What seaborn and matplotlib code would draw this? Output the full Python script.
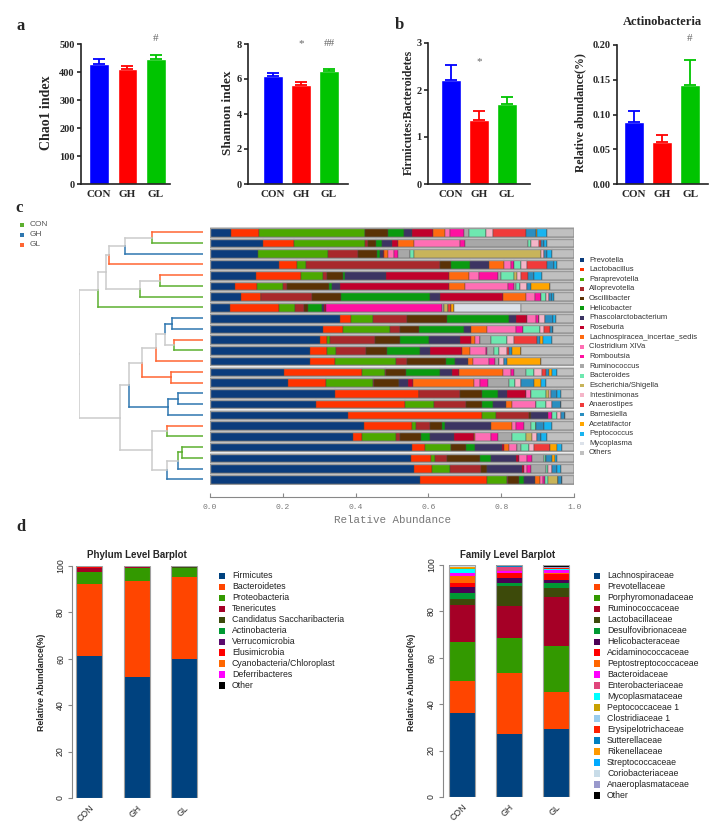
import numpy as np
import matplotlib
matplotlib.use('Agg')
import matplotlib.pyplot as plt
from matplotlib.patches import Rectangle
import seaborn as sns

# ---------------- data ----------------
groups = ['CON', 'GH', 'GL']
group_colors = ['#0000FF', '#FF0000', '#00C400']

chao1_mean = [430, 410, 448]
chao1_err = [15, 11, 14]
shannon_mean = [6.17, 5.64, 6.44]
shannon_err = [0.17, 0.19, 0.15]
fb_mean = [2.21, 1.37, 1.70]
fb_err = [0.32, 0.18, 0.16]
actino_mean = [0.089, 0.061, 0.142]
actino_err = [0.016, 0.010, 0.037]

genus_names = ['Prevotella', 'Lactobacillus', 'Paraprevotella', 'Alloprevotella', 'Oscillibacter',
               'Helicobacter', 'Phascolarctobacterium', 'Roseburia', 'Lachnospiracea_incertae_sedis',
               'Clostridium XlVa', 'Romboutsia', 'Ruminococcus', 'Bacteroides', 'Escherichia/Shigella',
               'Intestinimonas', 'Anaerostipes', 'Barnesiella', 'Acetatifactor', 'Peptococcus',
               'Mycoplasma', 'Others']
genus_colors = ['#0B3C7C', '#FF3300', '#4CA800', '#A8292B', '#5A3205', '#0A9A10', '#3C3462',
                '#C0002B', '#FF6A10', '#FF6EB4', '#FF10A0', '#A8A8A8', '#6EE8B0', '#C8B45A',
                '#F5B5C8', '#F03A3A', '#2A8EC0', '#FFA500', '#18B4F0', '#DCE2EA', '#C0C0C0']

# sample order follows the dendrogram leaves (top to bottom)
sample_groups = ['GL', 'CON', 'GH', 'GL', 'GL', 'CON', 'CON', 'CON', 'GH', 'GH', 'GL', 'CON',
                 'GL', 'GL', 'GL', 'GH', 'GH', 'GH', 'GL', 'CON', 'CON', 'CON', 'GH', 'GH']
tree_colors = {'CON': '#5DB030', 'GH': '#2F77B0', 'GL': '#FF6633'}

# genus reads per sample (same order as genus_names)
genus_reads = [
    [63, 85, 317, 0, 67, 48, 25, 62, 36, 15, 42, 15, 52, 0, 21, 97, 30, 5, 28, 0, 82],
    [158, 94, 213, 8, 25, 17, 30, 17, 48, 138, 17, 187, 8, 0, 25, 5, 10, 0, 10, 0, 80],
    [145, 0, 207, 91, 57, 8, 10, 4, 10, 20, 10, 36, 12, 380, 10, 0, 8, 0, 17, 0, 65],
    [206, 54, 28, 402, 32, 56, 57, 0, 45, 20, 10, 0, 22, 0, 18, 60, 20, 0, 8, 0, 52],
    [138, 135, 65, 12, 48, 7, 122, 190, 58, 30, 58, 7, 40, 8, 14, 20, 18, 0, 25, 0, 95],
    [75, 65, 80, 12, 123, 10, 23, 327, 48, 129, 18, 5, 12, 0, 23, 0, 10, 58, 0, 0, 72],
    [93, 59, 0, 153, 87, 268, 28, 190, 69, 26, 17, 0, 15, 0, 10, 0, 10, 0, 5, 0, 60],
    [60, 148, 47, 27, 10, 43, 5, 8, 0, 0, 347, 7, 0, 10, 0, 10, 0, 8, 0, 202, 158],
    [388, 35, 64, 103, 120, 185, 20, 35, 0, 25, 10, 0, 0, 0, 17, 0, 26, 0, 7, 0, 55],
    [338, 60, 140, 30, 59, 135, 21, 0, 47, 85, 23, 0, 49, 0, 13, 18, 10, 0, 0, 0, 62],
    [328, 22, 10, 135, 73, 87, 93, 34, 13, 15, 0, 32, 46, 0, 22, 68, 10, 10, 27, 0, 65],
    [298, 52, 28, 90, 62, 100, 30, 95, 25, 45, 3, 22, 15, 0, 23, 7, 10, 25, 0, 0, 160],
    [298, 77, 183, 32, 118, 27, 38, 0, 15, 47, 17, 13, 0, 0, 15, 0, 8, 102, 0, 0, 100],
    [223, 232, 68, 3, 62, 102, 35, 20, 133, 22, 10, 35, 25, 0, 25, 10, 10, 10, 13, 0, 52],
    [233, 115, 140, 4, 73, 0, 27, 16, 182, 18, 25, 62, 17, 0, 20, 0, 38, 20, 15, 0, 85],
    [375, 250, 0, 123, 67, 48, 25, 57, 0, 15, 0, 0, 45, 10, 5, 0, 20, 0, 10, 0, 40],
    [318, 265, 87, 97, 48, 33, 37, 0, 18, 72, 0, 0, 30, 0, 20, 0, 25, 0, 0, 0, 40],
    [413, 402, 40, 100, 5, 0, 53, 0, 0, 0, 12, 0, 13, 0, 12, 0, 13, 0, 0, 0, 27],
    [460, 145, 13, 40, 37, 10, 135, 0, 65, 10, 25, 20, 15, 0, 0, 0, 25, 0, 25, 0, 65],
    [428, 27, 103, 10, 65, 25, 74, 58, 5, 45, 22, 43, 40, 20, 13, 0, 12, 0, 20, 0, 80],
    [605, 40, 77, 0, 46, 27, 80, 5, 15, 25, 0, 10, 25, 0, 15, 48, 0, 22, 15, 0, 35],
    [602, 60, 13, 35, 98, 34, 73, 10, 0, 23, 17, 35, 5, 0, 0, 0, 20, 8, 7, 0, 50],
    [612, 53, 53, 94, 16, 0, 107, 5, 0, 10, 12, 45, 5, 0, 13, 0, 15, 0, 10, 0, 40],
    [628, 202, 60, 3, 33, 14, 33, 0, 15, 10, 5, 0, 10, 30, 0, 0, 10, 0, 0, 0, 37],
]

# hierarchical clustering: (child a, child b, height); leaves 0-23, new nodes numbered from 24
tree_merges = [
    (0, 1, 0.41), (24, 2, 0.63), (25, 3, 0.76), (4, 5, 0.35), (27, 6, 0.51),
    (26, 28, 0.78), (29, 7, 0.85), (8, 9, 0.25), (10, 11, 0.23), (31, 32, 0.31),
    (33, 12, 0.38), (13, 14, 0.26), (34, 35, 0.49), (15, 16, 0.20), (37, 17, 0.28),
    (36, 38, 0.60), (18, 19, 0.29), (20, 21, 0.17), (41, 22, 0.20), (42, 23, 0.29),
    (40, 43, 0.41), (39, 44, 0.67), (30, 45, 1.00),
]

phylum_names = ['Firmicutes', 'Bacteroidetes', 'Proteobacteria', 'Tenericutes',
                'Candidatus Saccharibacteria', 'Actinobacteria', 'Verrucomicrobia',
                'Elusimicrobia', 'Cyanobacteria/Chloroplast', 'Deferribacteres', 'Other']
phylum_colors = ['#00427F', '#FF4500', '#339900', '#A50026', '#3B4A0B', '#009933',
                 '#5B0A6E', '#FF0000', '#FF6600', '#FF00FF', '#000000']
phylum_con = [61.2, 30.9, 5.3, 1.7, 0.1, 0.1, 0.05, 0.05, 0.05, 0.05, 0.5]
phylum_gh = [52.3, 41.1, 5.9, 0.2, 0.1, 0.1, 0.05, 0.05, 0.05, 0.05, 0.1]
phylum_gl = [59.9, 35.4, 3.9, 0.1, 0.3, 0.1, 0.05, 0.05, 0.05, 0.05, 0.1]

family_names = ['Lachnospiraceae', 'Prevotellaceae', 'Porphyromonadaceae', 'Ruminococcaceae',
                'Lactobacillaceae', 'Desulfovibrionaceae', 'Helicobacteraceae',
                'Acidaminococcaceae', 'Peptostreptococcaceae', 'Bacteroidaceae',
                'Enterobacteriaceae', 'Mycoplasmataceae', 'Peptococcaceae 1', 'Clostridiaceae 1',
                'Erysipelotrichaceae', 'Sutterellaceae', 'Rikenellaceae', 'Streptococcaceae',
                'Coriobacteriaceae', 'Anaeroplasmataceae', 'Other']
family_colors = ['#00427F', '#FF4500', '#339900', '#A50026', '#3D4A0A', '#009933', '#4B0055',
                 '#FF0000', '#FF6600', '#FF00FF', '#E0457B', '#00FFFF', '#C8A000', '#99CCEE',
                 '#FF2000', '#0080C0', '#FF9900', '#00AAFF', '#C8DCE8', '#9999CC', '#000000']
family_con = [36.2, 14.0, 16.8, 15.8, 2.6, 2.7, 2.6, 1.4, 3.3, 1.0, 0.3, 1.7, 0.1, 0.1, 0.2,
              0.1, 0.1, 0.1, 0.3, 0.1, 0.6]
family_gh = [27.3, 26.1, 15.2, 13.9, 8.6, 1.2, 2.1, 2.0, 0.3, 0.6, 1.8, 0.05, 0.05, 0.05, 0.1,
             0.05, 0.05, 0.05, 0.05, 0.05, 0.4]
family_gl = [29.4, 15.8, 19.8, 21.1, 3.9, 2.1, 1.6, 2.4, 0.4, 1.2, 0.3, 0.2, 0.1, 0.1, 0.1,
             0.1, 0.1, 0.1, 0.1, 0.1, 1.0]

# ---------------- layout helpers ----------------
W, H = 724, 840
sns.set_style('ticks')
plt.rcParams['font.family'] = ['Liberation Serif', 'DejaVu Serif']
fig = plt.figure(figsize=(W / 100, H / 100), dpi=100)


def box(l, t, r, b):
    return [l / W, 1 - b / H, (r - l) / W, (b - t) / H]


over = fig.add_axes([0, 0, 1, 1])
over.set_xlim(0, W)
over.set_ylim(H, 0)
over.axis('off')

SANS = ['Liberation Sans', 'DejaVu Sans']
MONO = ['Liberation Mono', 'DejaVu Sans Mono']


def prism_panel(px, means, errs, ylim, yticks, yfmt, xlim, ylabel, lab_xy, lab_size, marks, mark_y):
    ax = fig.add_axes(box(*px))
    sns.barplot(x=groups, y=means, hue=groups, palette=group_colors, width=0.7,
                saturation=1, legend=False, errorbar=None, ax=ax)
    for i, (m, e, c) in enumerate(zip(means, errs, group_colors)):
        ax.errorbar(i, m, yerr=[[0], [e]], fmt='none', ecolor=c, elinewidth=1.3,
                    capsize=4, capthick=1.3)
        if marks[i]:
            ax.text(i, mark_y, marks[i], ha='center', va='center', fontsize=8,
                    color='#666666', clip_on=False)
    ax.set_xlim(xlim)
    ax.set_ylim(ylim)
    ax.set_yticks(yticks)
    ax.set_yticklabels([yfmt.format(v) for v in yticks])
    ax.set_xlabel('')
    ax.set_ylabel('')
    sns.despine(ax=ax)
    for s in ['left', 'bottom']:
        ax.spines[s].set_linewidth(1.2)
        ax.spines[s].set_color('#222222')
    ax.tick_params(axis='y', length=3, width=1.2, labelsize=7.5, pad=1.5)
    ax.tick_params(axis='x', length=0, labelsize=8, pad=4)
    for lab in ax.get_xticklabels() + ax.get_yticklabels():
        lab.set_fontweight('bold')
    over.text(lab_xy[0], lab_xy[1], ylabel, rotation=90, ha='center', va='center',
              fontsize=lab_size, fontweight='bold')
    return ax


# ---------------- panel a / b ----------------
prism_panel((81, 44, 170, 184), chao1_mean, chao1_err, (0, 500), [0, 100, 200, 300, 400, 500],
            '{:.0f}', (-0.63, 2.49), 'Chao1 index', (46, 113), 10, ['', '', '#'], 518)
prism_panel((248, 44, 348, 184), shannon_mean, shannon_err, (0, 8), [0, 2, 4, 6, 8],
            '{:.0f}', (-0.89, 2.68), 'Shannon index', (228, 113), 9.5, ['', '*', '##'], 8.05)
prism_panel((428, 43, 530, 184), fb_mean, fb_err, (0, 3), [0, 1, 2, 3],
            '{:.0f}', (-0.82, 2.82), 'Firmicutes:Bacteroidetes', (409, 112), 8.5,
            ['', '*', ''], 2.6)
prism_panel((617, 45, 708, 184), actino_mean, actino_err, (0, 0.2), [0, 0.05, 0.10, 0.15, 0.20],
            '{:.2f}', (-0.61, 2.64), 'Relative abundance(%)', (580, 113), 8.5,
            ['', '', '#'], 0.21)
over.text(662, 22, 'Actinobacteria', ha='center', va='center', fontsize=9, fontweight='bold')

for lab, x, y in [('a', 21, 26), ('b', 399, 25), ('c', 19, 208), ('d', 21, 527)]:
    over.text(x, y, lab, ha='center', va='center', fontsize=12, fontweight='bold')

# ---------------- panel c ----------------
n = len(sample_groups)
rows_top, rows_bot = 226.9, 484.7

axd = fig.add_axes(box(79, rows_top, 203, rows_bot))
axd.set_xlim(1.0, 0.0)
axd.set_ylim(n - 0.5, -0.5)
axd.axis('off')
ypos = {i: float(i) for i in range(n)}
hgt = {i: 0.0 for i in range(n)}
col = {i: tree_colors[g] for i, g in enumerate(sample_groups)}
for k, (a, b, h) in enumerate(tree_merges):
    node = n + k
    ypos[node] = (ypos[a] + ypos[b]) / 2
    hgt[node] = h
    col[node] = col[a] if col[a] == col[b] else '#CCCCCC'
    for child in (a, b):
        axd.plot([hgt[child], h], [ypos[child], ypos[child]], color=col[child], lw=1.1,
                 solid_capstyle='projecting')
        axd.plot([h, h], [ypos[child], ypos[node]], color=col[child], lw=1.1,
                 solid_capstyle='projecting')

axc = fig.add_axes(box(210, rows_top, 574, rows_bot))
reads = np.array(genus_reads, dtype=float)
rel = reads / reads.sum(axis=1, keepdims=True)
left = np.zeros(n)
for j, c in enumerate(genus_colors):
    axc.barh(np.arange(n), rel[:, j], left=left, height=0.8, color=c,
             edgecolor='#444444', linewidth=0.3)
    left += rel[:, j]
axc.barh(np.arange(n), left, height=0.8, fill=False, edgecolor='#9A9A9A', linewidth=1.0)
axc.set_xlim(0, 1)
axc.set_ylim(n - 0.5, -0.5)
for s in ['left', 'right', 'top']:
    axc.spines[s].set_visible(False)
axc.spines['bottom'].set_position(('outward', 9))
axc.spines['bottom'].set_color('#888888')
axc.spines['bottom'].set_linewidth(0.8)
axc.set_yticks([])
axc.set_xticks([0, 0.2, 0.4, 0.6, 0.8, 1.0])
axc.set_xticklabels(['0.0', '0.2', '0.4', '0.6', '0.8', '1.0'])
axc.tick_params(axis='x', direction='in', length=3, width=0.8, color='#888888',
                labelsize=5.8, labelcolor='#777777', pad=5)
for lab in axc.get_xticklabels():
    lab.set_family(MONO)
axc.set_xlabel('Relative Abundance', fontsize=7.8, color='#777777', family=MONO, labelpad=3)

for i, g in enumerate(groups):
    y = 225 + i * 10
    over.add_patch(Rectangle((20, y - 2), 4, 4, color=tree_colors[g], lw=0))
    over.text(30, y, g, fontsize=6, va='center', ha='left', color='#555555', family=SANS)

for i, (nm, c) in enumerate(zip(genus_names, genus_colors)):
    y = 260 + i * 9.65
    over.add_patch(Rectangle((580, y - 1.8), 3.6, 3.6, color=c, lw=0))
    over.text(589, y, nm, fontsize=5.5, va='center', ha='left', color='#333333', family=SANS)


# ---------------- panel d ----------------
def stacked_panel(px, xlim, series, names, colors, title, title_x, ylab_x, leg_x):
    ax = fig.add_axes(box(*px))
    x = np.arange(len(groups))
    bottom = np.zeros(len(groups))
    for j, c in enumerate(colors):
        vals = np.array([s[j] for s in series])
        ax.bar(x, vals, bottom=bottom, width=0.55, color=c, linewidth=0)
        bottom += vals
    ax.bar(x, bottom, width=0.55, fill=False, edgecolor='#A0A0A0', linewidth=0.8)
    ax.set_xlim(xlim)
    ax.set_ylim(0, 100)
    for s in ['right', 'top', 'bottom']:
        ax.spines[s].set_visible(False)
    ax.spines['left'].set_color('#888888')
    ax.spines['left'].set_linewidth(0.8)
    ax.set_yticks([0, 20, 40, 60, 80, 100])
    ax.set_xticks(x)
    ax.set_xticklabels(groups)
    ax.tick_params(axis='y', length=3, width=0.8, color='#888888', labelsize=6.3, pad=2)
    ax.tick_params(axis='x', length=0, labelsize=6.3, pad=4)
    for lab in ax.get_yticklabels():
        lab.set_rotation(90)
        lab.set_va('center')
        lab.set_family(SANS)
    for lab in ax.get_xticklabels():
        lab.set_rotation(45)
        lab.set_ha('right')
        lab.set_rotation_mode('anchor')
        lab.set_family(SANS)
    over.text(title_x, 555, title, ha='center', va='center', fontsize=7, fontweight='bold',
              family=SANS)
    over.text(ylab_x, 682, 'Relative Abundance(%)', rotation=90, ha='center', va='center',
              fontsize=6.3, fontweight='bold', family=SANS)
    for i, (nm, c) in enumerate(zip(names, colors)):
        y = 576 + i * 10.97
        over.add_patch(Rectangle((leg_x - 3.3, y - 3.3), 6.6, 6.6, color=c, lw=0))
        over.text(leg_x + 10, y, nm, fontsize=6.3, va='center', ha='left', color='#222222',
                  family=SANS)


stacked_panel((72, 566, 205, 798), (-0.36, 2.44), [phylum_con, phylum_gh, phylum_gl],
              phylum_names, phylum_colors, 'Phylum Level Barplot', 137, 42, 222)
stacked_panel((443, 565, 575, 797), (-0.40, 2.40), [family_con, family_gh, family_gl],
              family_names, family_colors, 'Family Level Barplot', 508, 412, 597)

fig.savefig('out.png', dpi=100)
